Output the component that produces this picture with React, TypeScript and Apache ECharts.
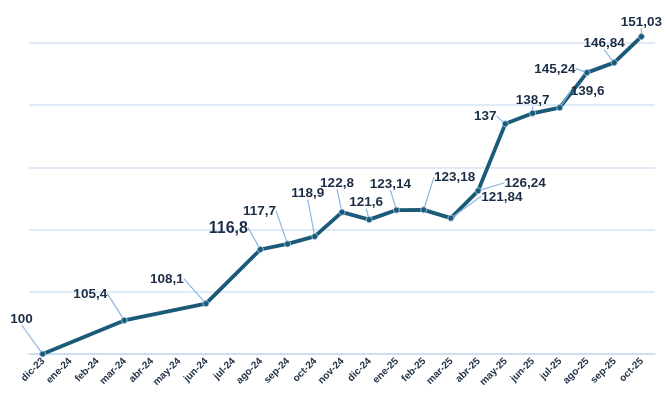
import React, { useEffect, useRef } from "react";
import * as echarts from "echarts";

const categories = [
  "dic-23", "ene-24", "feb-24", "mar-24", "abr-24", "may-24", "jun-24", "jul-24",
  "ago-24", "sep-24", "oct-24", "nov-24", "dic-24", "ene-25", "feb-25", "mar-25",
  "abr-25", "may-25", "jun-25", "jul-25", "ago-25", "sep-25", "oct-25",
];

const values: (number | null)[] = [
  100, null, null, 105.4, null, null, 108.1, null,
  116.8, 117.7, 118.9, 122.8, 121.6, 123.14, 123.18, 121.84,
  126.24, 137, 138.7, 139.6, 145.24, 146.84, 151.03,
];

// label offsets (dx, dy) from each point to its label centre
const labelOffsets: [number, number][] = [
  [-21, -36], [0, 0], [0, 0], [-34, -27], [0, 0], [0, 0], [-39, -25], [0, 0],
  [-32, -22], [-28, -33], [-7, -44], [-5, -30], [-3, -18], [-6, -27], [31, -33], [51, -22],
  [47, -8], [-20, -8], [0, -14], [28, -17], [-32, -4], [-10, -20], [0, -15],
];

const bigLabelIndex = 8;
const FONT = "'Liberation Sans', Arial, sans-serif";

export default function App() {
  const ref = useRef<HTMLDivElement>(null);
  useEffect(() => {
    if (!ref.current) return;
    const chart = echarts.init(ref.current, null, { renderer: "svg" });
    const data = values.map((v, i) =>
      i === bigLabelIndex ? { value: v, label: { fontSize: 16 } } : v
    );
    chart.setOption({
      animation: false,
      grid: { left: 29, right: 13, top: 43, bottom: 44, containLabel: false },
      xAxis: {
        type: "category",
        data: categories,
        boundaryGap: true,
        axisLine: { lineStyle: { color: "#c6daf0", width: 1.5 } },
        axisTick: { show: false },
        axisLabel: {
          interval: 0,
          rotate: 45,
          fontSize: 10,
          fontWeight: "bold",
          color: "#24344a",
          fontFamily: FONT,
          margin: 5,
        },
        splitLine: { show: false },
      },
      yAxis: {
        type: "value",
        min: 100,
        max: 150,
        interval: 10,
        axisLabel: { show: false },
        axisLine: { show: false },
        axisTick: { show: false },
        splitLine: { lineStyle: { color: "#d5e4f5", width: 1.5 } },
      },
      series: [
        {
          type: "line",
          data,
          connectNulls: true,
          clip: false,
          lineStyle: { color: "#1b5a79", width: 3.8 },
          symbol: "circle",
          symbolSize: 6,
          itemStyle: { color: "#1b5a79", borderColor: "#9cc0dc", borderWidth: 1 },
          label: {
            show: true,
            position: "inside",
            fontSize: 13.5,
            fontWeight: "bold",
            color: "#1b2d45",
            fontFamily: FONT,
            formatter: (p: any) => String(p.value).replace(".", ","),
          },
          labelLine: {
            show: true,
            lineStyle: { color: "#8cb6e2", width: 1.2 },
          },
          labelLayout: (p: any) => {
            const o = labelOffsets[p.dataIndex] || [0, 0];
            return { dx: o[0], dy: o[1] };
          },
        },
      ],
    });
    return () => chart.dispose();
  }, []);
  return (
    <div
      ref={ref}
      style={{ position: "fixed", left: 0, top: 0, width: 668, height: 398 }}
    />
  );
}
